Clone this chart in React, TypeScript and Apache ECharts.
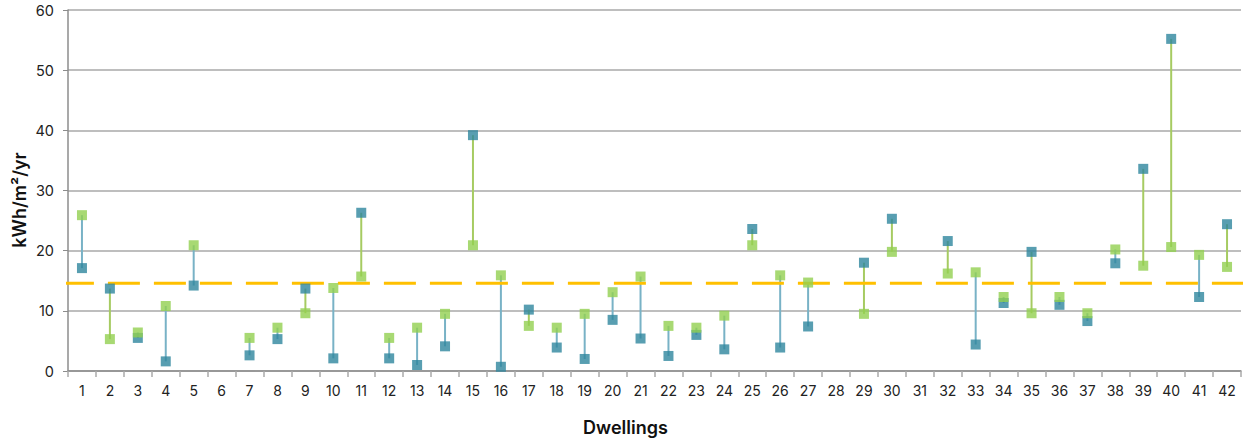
import React, { useEffect, useRef } from "react";
import * as echarts from "echarts";

const dwellings = Array.from({ length: 42 }, (_, i) => String(i + 1));
const tealValues: (number | null)[] = [
  17.1, 13.7, 5.5, 1.6, 14.2, null, 2.6, 5.3, 13.7, 2.1,
  26.3, 2.1, 1.0, 4.1, 39.2, 0.7, 10.2, 3.9, 2.0, 8.5,
  5.4, 2.5, 6.0, 3.6, 23.6, 3.9, 7.4, null, 18.0, 25.3,
  null, 21.6, 4.4, 11.3, 19.8, 11.0, 8.3, 17.9, 33.6, 55.2,
  12.3, 24.4,
];
const greenValues: (number | null)[] = [
  25.9, 5.3, 6.4, 10.8, 20.9, null, 5.5, 7.2, 9.6, 13.8,
  15.7, 5.5, 7.2, 9.5, 20.9, 15.9, 7.5, 7.2, 9.5, 13.1,
  15.7, 7.5, 7.2, 9.2, 20.9, 15.9, 14.7, null, 9.5, 19.8,
  null, 16.2, 16.4, 12.3, 9.6, 12.3, 9.6, 20.2, 17.5, 20.6,
  19.3, 17.3,
];
const targetValue = 14.6;
const yTicks = [0, 10, 20, 30, 40, 50, 60];
const yAxisTitle = "kWh/m²/yr";
const xAxisTitle = "Dwellings";

const TEAL = "#2e869e";
const GREEN = "#92d050";
const TEAL_LINE = "#78b2c6";
const GREEN_LINE = "#a6cb62";
const FONT = "Inter, 'Liberation Sans', sans-serif";

export default function App() {
  const ref = useRef<HTMLDivElement>(null);
  useEffect(() => {
    if (!ref.current) return;
    const chart = echarts.init(ref.current, undefined, { renderer: "svg" });
    const pairData = dwellings.map((d, i) => [i, tealValues[i], greenValues[i]]);
    chart.setOption({
      animation: false,
      backgroundColor: "#ffffff",
      grid: { left: 68, right: 3, top: 10, bottom: 72, containLabel: false },
      graphic: [
        {
          type: "text",
          x: 19.5,
          y: 200,
          rotation: Math.PI / 2,
          style: {
            text: yAxisTitle,
            fontFamily: FONT,
            fontSize: 18,
            fontWeight: 600,
            fill: "#111",
            align: "center",
            verticalAlign: "middle",
          },
        },
      ],
      xAxis: [
        {
          type: "category",
          data: dwellings,
          boundaryGap: true,
          name: xAxisTitle,
          nameLocation: "middle",
          nameGap: 47,
          nameTextStyle: {
            fontFamily: FONT,
            fontSize: 18,
            fontWeight: 600,
            color: "#111",
            padding: [0, 58, 0, 0],
          },
          axisLine: { lineStyle: { color: "#8c8c8c", width: 1.5 } },
          axisTick: { show: true, length: 6, alignWithLabel: false, lineStyle: { color: "#aaaaaa", width: 1.5 } },
          axisLabel: { fontFamily: FONT, fontSize: 14, color: "#222", margin: 12, interval: 0 },
          splitLine: { show: false },
        },
        { type: "value", min: 0, max: 1, show: false },
      ],
      yAxis: {
        type: "value",
        min: 0,
        max: 60,
        interval: 10,
        axisLine: { show: true, lineStyle: { color: "#8c8c8c", width: 1.5 } },
        axisTick: { show: true, length: 5, lineStyle: { color: "#8c8c8c" } },
        axisLabel: {
          fontFamily: FONT,
          fontSize: 14.5,
          color: "#222",
          margin: 14,
          formatter: (v: number) => (yTicks.includes(v) ? String(v) : ""),
        },
        splitLine: { show: true, lineStyle: { color: "#a8a8a8", width: 1.5 } },
      },
      series: [
        {
          type: "custom",
          name: "range",
          data: pairData,
          z: 2,
          renderItem: (params: any, api: any) => {
            const i = api.value(0);
            const a = api.value(1);
            const b = api.value(2);
            if (a == null || b == null || isNaN(a) || isNaN(b)) return null;
            const p1 = api.coord([i, a]);
            const p2 = api.coord([i, b]);
            const color = a < b ? TEAL_LINE : GREEN_LINE;
            return {
              type: "line",
              shape: { x1: p1[0], y1: p1[1], x2: p2[0], y2: p2[1] },
              style: { stroke: color, lineWidth: 2 },
            };
          },
          encode: { x: 0, y: [1, 2] },
        },
        {
          type: "line",
          name: "target",
          xAxisIndex: 1,
          data: [[-0.0052, targetValue], [1.003, targetValue]],
          symbol: "none",
          clip: false,
          z: 3,
          lineStyle: { color: "#ffc000", width: 3, type: [32, 14] },
        },
        {
          type: "scatter",
          name: "Teal",
          data: tealValues,
          symbol: "rect",
          symbolSize: 10,
          z: 4,
          itemStyle: { color: TEAL },
        },
        {
          type: "scatter",
          name: "Green",
          data: greenValues,
          symbol: "rect",
          symbolSize: 10,
          z: 5,
          itemStyle: { color: GREEN },
        },
      ],
    });
    return () => chart.dispose();
  }, []);
  return (
    <div
      ref={ref}
      style={{ position: "absolute", left: 0, top: 0, width: 1244, height: 443 }}
    />
  );
}
